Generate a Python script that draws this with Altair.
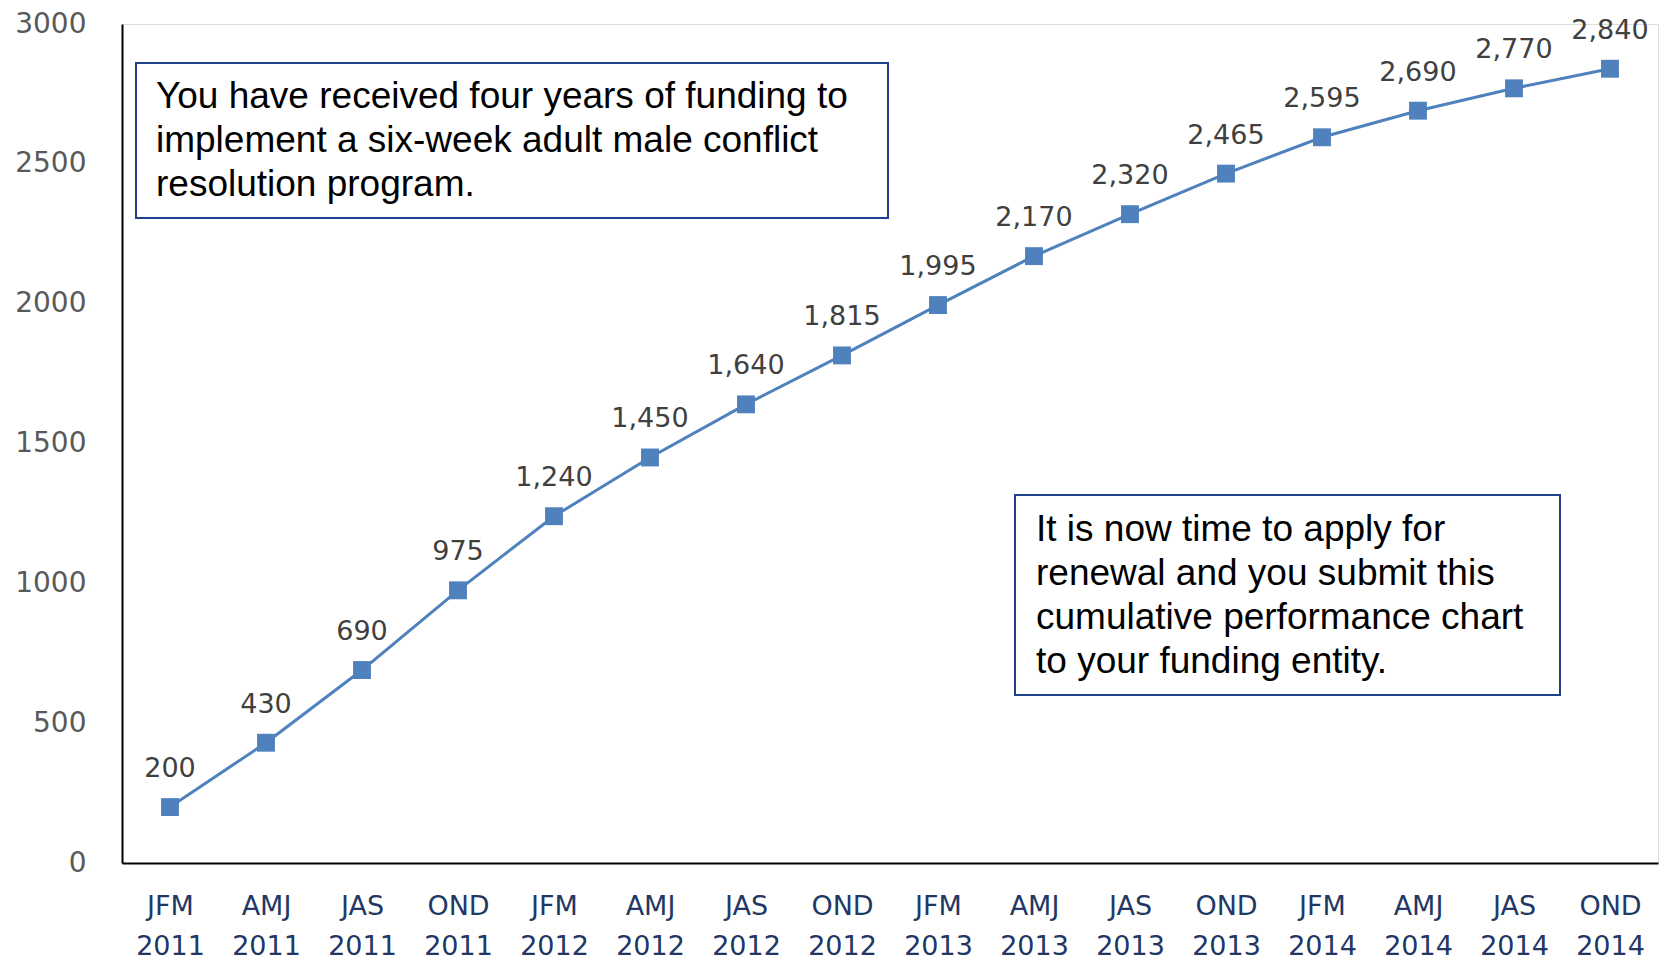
import altair as alt
import pandas as pd

periods = ["JFM 2011", "AMJ 2011", "JAS 2011", "OND 2011",
           "JFM 2012", "AMJ 2012", "JAS 2012", "OND 2012",
           "JFM 2013", "AMJ 2013", "JAS 2013", "OND 2013",
           "JFM 2014", "AMJ 2014", "JAS 2014", "OND 2014"]
values = [200, 430, 690, 975, 1240, 1450, 1640, 1815,
          1995, 2170, 2320, 2465, 2595, 2690, 2770, 2840]
y_ticks = [0, 500, 1000, 1500, 2000, 2500, 3000]

box1_lines = ["You have received four years of funding to",
              "implement a six-week adult male conflict",
              "resolution program."]
box2_lines = ["It is now time to apply for",
              "renewal and you submit this",
              "cumulative performance chart",
              "to your funding entity."]

df = pd.DataFrame({"period": periods, "value": values})

LINE_BLUE = "#4F81BD"
BOX_BLUE = "#1F3F8F"
NUM_FONT = "DejaVu Sans"

base = alt.Chart(df).encode(
    x=alt.X("period:N", sort=periods,
            scale=alt.Scale(type="point", padding=0.5),
            axis=alt.Axis(title=None, labelAngle=0, ticks=False,
                          domainColor="black", domainWidth=2,
                          labelExpr="split(datum.label, ' ')",
                          labelFont=NUM_FONT, labelFontSize=27,
                          labelColor="#1F3864", labelLineHeight=40,
                          labelBaseline="top", labelPadding=30,
                          labelOverlap=False, grid=False)),
    y=alt.Y("value:Q", scale=alt.Scale(domain=[0, 3000], nice=False),
            axis=alt.Axis(title=None, values=y_ticks, format="d",
                          ticks=False, grid=False,
                          domainColor="black", domainWidth=2,
                          labelFont=NUM_FONT, labelFontSize=28,
                          labelColor="#595959", labelPadding=36)),
)

line = base.mark_line(color=LINE_BLUE, strokeWidth=3)
pts = base.mark_point(shape="square", filled=True, size=320,
                      color=LINE_BLUE, opacity=1)
labels = base.mark_text(dy=-30, baseline="alphabetic", fontSize=27,
                        font=NUM_FONT, color="#404040").encode(
    text=alt.Text("value:Q", format=","))

one = alt.Data(values=[{}])

box1 = alt.Chart(one).mark_rect(fill="white", stroke=BOX_BLUE, strokeWidth=2).encode(
    x=alt.value(14), x2=alt.value(766), y=alt.value(39), y2=alt.value(194))
text1 = alt.Chart(one).mark_text(text=box1_lines, align="left", baseline="middle",
                                 lineHeight=44, fontSize=37, font="Liberation Sans",
                                 color="black").encode(
    x=alt.value(34), y=alt.value(73))

box2 = alt.Chart(one).mark_rect(fill="white", stroke=BOX_BLUE, strokeWidth=2).encode(
    x=alt.value(893), x2=alt.value(1438), y=alt.value(471), y2=alt.value(671))
text2 = alt.Chart(one).mark_text(text=box2_lines, align="left", baseline="middle",
                                 lineHeight=44, fontSize=37, font="Liberation Sans",
                                 color="black").encode(
    x=alt.value(914), y=alt.value(506))

chart = alt.layer(line, pts, labels, box1, text1, box2, text2).properties(
    width=1536, height=839,
    padding={"left": 114, "top": 16, "right": 3, "bottom": 100},
    autosize=alt.AutoSizeParams(type="none"),
).configure_view(stroke=None).configure(background="white")

chart.save("out.html", embed_options={"renderer": "svg", "actions": False})
